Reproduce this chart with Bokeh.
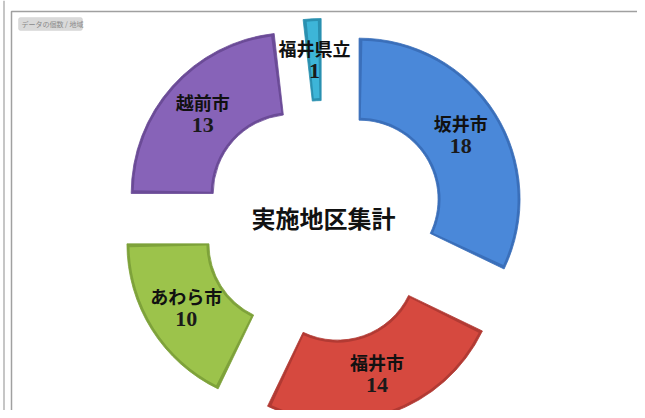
import numpy as np
from bokeh.plotting import figure
from bokeh.models import Range1d, ColumnDataSource, BoxAnnotation
from bokeh.core.properties import value
from bokeh.embed import file_html
from bokeh.resources import INLINE

# ---- data ----
regions = ["坂井市", "福井市", "あわら市", "越前市", "福井県立"]
counts = [18, 14, 10, 13, 1]
main_colors = ["#4a88d9", "#d6493f", "#9cc34b", "#8763b8", "#3db5d8"]
edge_colors = ["#3a6fba", "#b23a33", "#7ea23a", "#6b4b97", "#2a90b0"]
center_title = "実施地区集計"
tag_text = "データの個数 / 地域"

# ---- layout (pixel-based: data y = 418 - pixel y) ----
PW, PH = 637, 410
def Y(py):
    return 418 - py

cx, cy = 323, Y(221)
R_out, R_in = 161, 79
explode = 42

p = figure(width=PW, height=PH, x_range=Range1d(0, 637), y_range=Range1d(8, 418),
           output_backend="svg", toolbar_location=None, min_border=0,
           x_axis_location=None, y_axis_location=None)
p.grid.visible = False
p.outline_line_color = None
p.background_fill_color = "white"

# outer frames
p.line([3.5, 3.5], [Y(0), Y(420)], line_color="#a0a0a0", line_width=1.2)
p.line([11, 11, 646], [Y(420), Y(11), Y(11)], line_color="#a0a0a0", line_width=1.5)

# ---- wedge geometry from data ----
vals = np.array(counts, dtype=float)
total = vals.sum()
cum = np.concatenate([[0], np.cumsum(vals)])
th0 = 2 * np.pi * cum[:-1] / total          # clockwise from top
th1 = 2 * np.pi * cum[1:] / total
mid = (th0 + th1) / 2
xs = cx + explode * np.sin(mid)
ys = cy + explode * np.cos(mid)
start = np.pi / 2 - th1
end = np.pi / 2 - th0

src = ColumnDataSource(dict(x=xs, y=ys, start=start, end=end,
                            main=main_colors, edge=edge_colors))
p.annular_wedge(x="x", y="y", inner_radius=R_in, outer_radius=R_out,
                start_angle="start", end_angle="end", direction="anticlock",
                fill_color="edge", line_color="edge", line_width=0.8, source=src)

ins = 2.5
src2 = ColumnDataSource(dict(x=xs, y=ys, start=start + ins / 120, end=end - ins / 120,
                             main=main_colors))
p.annular_wedge(x="x", y="y", inner_radius=R_in + ins, outer_radius=R_out - ins,
                start_angle="start", end_angle="end", direction="anticlock",
                fill_color="main", line_color=None, source=src2)

# ---- labels ----
rmid = (R_in + R_out) / 2
lx = cx + (explode + rmid) * np.sin(mid)
ly = cy + (explode + rmid) * np.cos(mid)
lab = ColumnDataSource(dict(x=lx, y=ly + 12, t=regions))
num = ColumnDataSource(dict(x=lx, y=ly - 11, t=[str(c) for c in counts]))
p.text(x="x", y="y", text="t", source=lab, text_align="center", text_baseline="middle",
       text_font=value("Noto Sans CJK JP"), text_font_style="bold",
       text_font_size="18px", text_color="#111111")
p.text(x="x", y="y", text="t", source=num, text_align="center", text_baseline="middle",
       text_font=value("Liberation Serif"), text_font_style="bold",
       text_font_size="22px", text_color="#1a1a1a")

# center title
p.text(x=[cx], y=[Y(217)], text=[center_title], text_align="center", text_baseline="middle",
       text_font=value("Noto Sans CJK JP"), text_font_style="bold",
       text_font_size="24px", text_color="#111111")

# field tag
p.add_layout(BoxAnnotation(left=18, right=82, top=Y(17), bottom=Y(30),
                           fill_color="#d9d9d9", fill_alpha=1.0, level="underlay",
                           line_color="#c4c4c4", border_radius=2))
p.text(x=[21], y=[Y(23.5)], text=[tag_text], text_align="left", text_baseline="middle",
       text_font=value("Noto Sans CJK JP"), text_font_size="7px", text_color="#8a8a8a")

open("out.html", "w").write(file_html(p, INLINE))
